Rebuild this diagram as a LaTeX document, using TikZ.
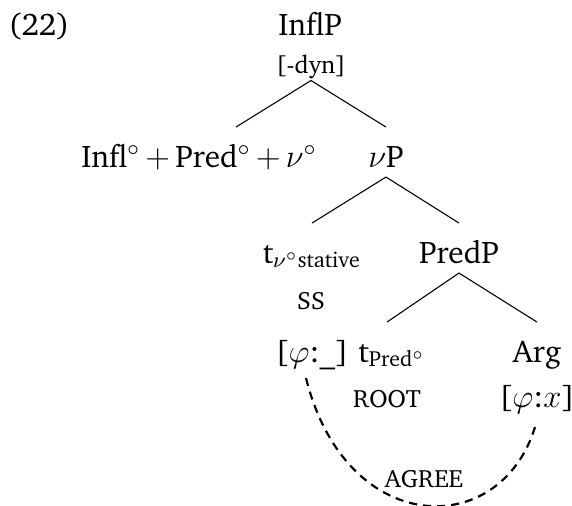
\documentclass[tikz,border=0pt]{standalone}
\usepackage[T1]{fontenc}
\usepackage{charter}
\usetikzlibrary{calc}

\begin{document}
\begin{tikzpicture}[x=0.368pt,y=-0.368pt,
	cat/.style={inner sep=0pt,anchor=base,text height=14.5pt,text depth=3.5pt,font=\fontsize{11.5}{14}\selectfont},
	feat/.style={inner sep=0pt,anchor=base,text height=14.5pt,text depth=2.2pt,font=\fontsize{9.2}{11}\selectfont},
	agree/.style={thick,dash pattern=on 3pt off 2.2pt}]
	\useasboundingbox (0,0) rectangle (572,506);
	
	\node[cat,anchor=base west] (ex) at (8,35) {(22)};
	
	\node[cat] (inflp) at (310,35) {InflP};
	\node[feat] (dyn) at (311,74) {[-dyn]};
	
	\node[cat] (head) at (199,167) {Infl$^\circ$\,$+$\,Pred$^\circ$\,$+$\,$\nu^\circ$};
	\node[cat] (vp) at (386,167) {$\nu$P};
	
	\node[cat] (tv) at (312,263) {t\textsubscript{$\nu^\circ$stative}};
	\node[cat] (predp) at (459,263) {PredP};
	\node[feat] (ss) at (311,310) {SS};
	\node[cat] (phiu) at (312,362) {[$\varphi$:\_]};
	
	\node[cat] (tpred) at (392,362) {t\textsubscript{Pred$^\circ$}};
	\node[feat] (root) at (387,407) {ROOT};
	\node[cat] (arg) at (537,362) {Arg};
	\node[cat] (phix) at (537,407) {[$\varphi$:$x$]};
	
	\node[feat] (agr) at (424,487) {AGREE};
	
	\draw
	(dyn.south) -- ($(head.north)+(37,0)$)
	(dyn.south) -- (vp.north);
	
	\draw
	(vp.south) -- (tv.north)
	(vp.south) -- (predp.north);
	
	\draw
	(predp.south) -- ($(tpred.north)+(-5,0)$)
	(predp.south) -- (arg.north);
	
%	\draw[agree] (phiu.south) to[out=-80,in=-100] (phix.south);
	\draw[agree]
	($(phiu.south)+(-6,6)$) .. controls +(40,160) and +(-35,114) .. ($(phix.south)+(-2,10)$);
	
\end{tikzpicture}
\end{document}
